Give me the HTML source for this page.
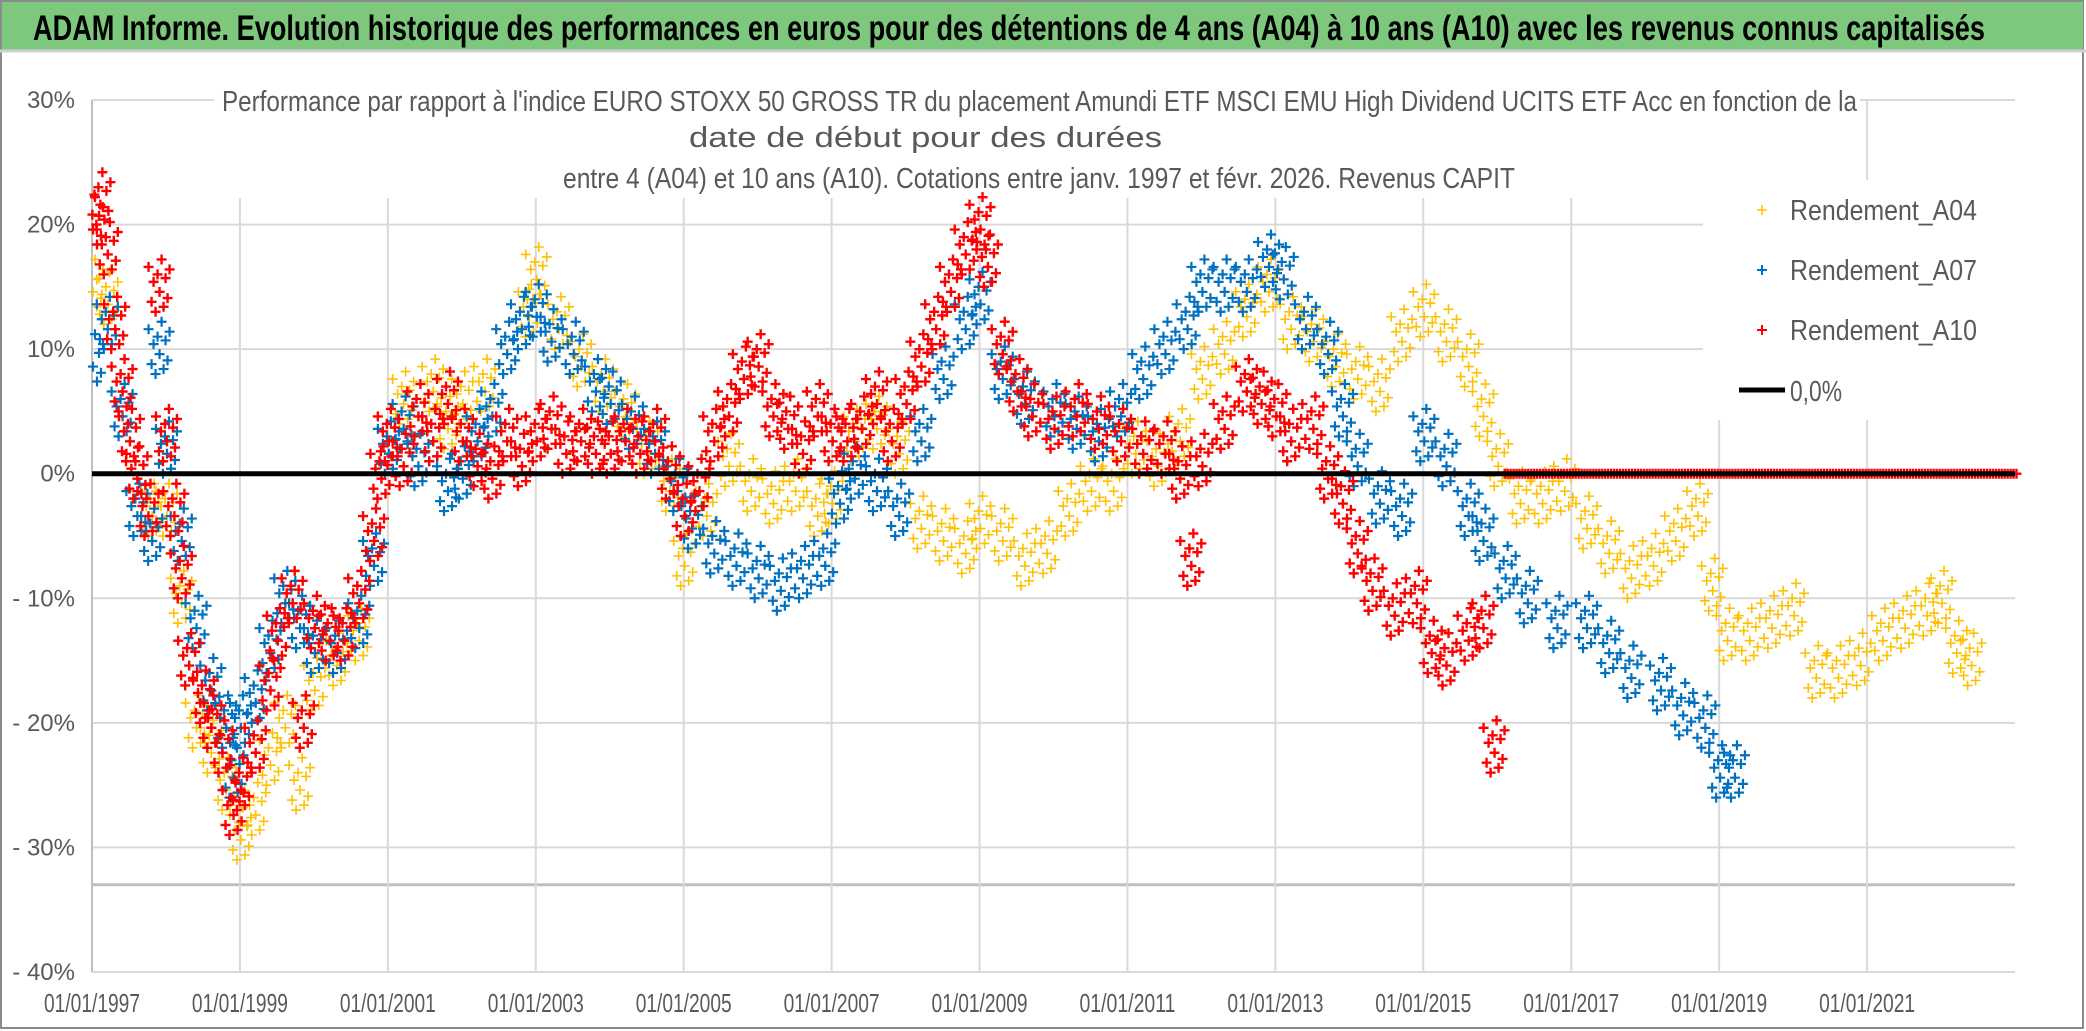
<!DOCTYPE html>
<html><head><meta charset="utf-8"><style>
html,body{margin:0;padding:0;background:#fff;}
svg{display:block;font-family:"Liberation Sans Narrow","Liberation Sans",sans-serif;}
</style></head><body>
<svg id="chart" width="2086" height="1031" viewBox="0 0 2086 1031" xmlns="http://www.w3.org/2000/svg">
<rect x="0" y="0" width="2086" height="1031" fill="#fff"/>
<rect x="1" y="1" width="2082" height="1027" fill="none" stroke="#8a8a8a" stroke-width="2"/>
<rect x="2" y="2" width="2081" height="48" fill="#7dc87d"/>
<line x1="0" y1="51" x2="2086" y2="51" stroke="#d0d0d0" stroke-width="3"/>
<text x="33" y="40" font-size="35" font-weight="bold" fill="#000" textLength="1952" lengthAdjust="spacingAndGlyphs">ADAM Informe. Evolution historique des performances en euros pour des détentions de 4 ans (A04) à 10 ans (A10) avec les revenus connus capitalisés</text>
<g id="grid"></g>
<rect x="214" y="86" width="1646" height="112" fill="#fff"/>
<text x="222" y="111" font-size="29" fill="#595959" textLength="1635" lengthAdjust="spacingAndGlyphs">Performance par rapport à l'indice EURO STOXX 50 GROSS TR  du placement Amundi ETF MSCI EMU High Dividend UCITS ETF Acc en fonction de la</text>
<text x="689" y="147" font-size="29" fill="#595959" textLength="473" lengthAdjust="spacingAndGlyphs">date de début pour des durées</text>
<text x="563" y="188" font-size="29" fill="#595959" textLength="952" lengthAdjust="spacingAndGlyphs">entre 4 (A04) et 10 ans (A10). Cotations entre janv. 1997 et févr. 2026. Revenus CAPIT</text>
<g id="axes"></g>
<g id="marks"></g>
<rect x="1703" y="180" width="312" height="240" fill="#fff"/>
<g font-size="29" fill="#595959">
 <g><path d="M1757 210h10M1762 205v10" stroke="#ffc000" stroke-width="1.5"/><text x="1790" y="220" textLength="187" lengthAdjust="spacingAndGlyphs">Rendement_A04</text></g>
 <g><path d="M1757 270h10M1762 265v10" stroke="#0070c0" stroke-width="2"/><text x="1790" y="280" textLength="187" lengthAdjust="spacingAndGlyphs">Rendement_A07</text></g>
 <g><path d="M1757 330h10M1762 325v10" stroke="#ff0000" stroke-width="2"/><text x="1790" y="340" textLength="187" lengthAdjust="spacingAndGlyphs">Rendement_A10</text></g>
 <g><line x1="1739" y1="390" x2="1785" y2="390" stroke="#000" stroke-width="5"/><text x="1790" y="401" textLength="52" lengthAdjust="spacingAndGlyphs">0,0%</text></g>
</g>
</svg>
<script>
const yTicks=[30,20,10,0,-10,-20,-30,-40];
const yTickLabels=["30%","20%","10%","0%","- 10%","- 20%","- 30%","- 40%"];
const xTicks=[1997,1999,2001,2003,2005,2007,2009,2011,2013,2015,2017,2019,2021];
const xTickLabels=["01/01/1997","01/01/1999","01/01/2001","01/01/2003","01/01/2005","01/01/2007","01/01/2009","01/01/2011","01/01/2013","01/01/2015","01/01/2017","01/01/2019","01/01/2021"];
const a04Dates=[1997.0,1997.2,1997.4,1997.6,1997.8,1998.0,1998.2,1998.4,1998.6,1998.8,1999.0,1999.2,1999.4,1999.6,1999.8,2000.0,2000.3,2000.6,2000.8,2001.0,2001.2,2001.4,2001.6,2001.8,2002.0,2002.3,2002.6,2002.9,2003.0,2003.3,2003.6,2003.9,2004.2,2004.5,2004.8,2005.0,2005.3,2005.6,2005.9,2006.2,2006.5,2006.8,2007.0,2007.3,2007.6,2007.9,2008.2,2008.5,2008.8,2009.0,2009.3,2009.6,2009.9,2010.2,2010.5,2010.8,2011.1,2011.4,2011.7,2012.0,2012.3,2012.6,2012.9,2013.2,2013.5,2013.8,2014.1,2014.4,2014.7,2015.0,2015.3,2015.6,2015.8,2016.0,2016.3,2016.6,2016.9,2017.2,2017.5,2017.8,2018.1,2018.4,2018.7,2018.9,2019.1,2019.4,2019.7,2020.0,2020.3,2020.6,2020.9,2021.2,2021.5,2021.8,2022.0,2022.2,2022.4];
const a04Values=[15,14,7,0,-3,-3,-10,-20,-22,-25,-29,-27,-23,-20,-25,-17,-15,-13,-5,3,6,5,7,4,6,7,10,13,16,12,9,7,5,2,-1,-7,-3,1,-1,-2,-1,-3,-2,3,4,2,-4,-5,-6,-4,-5,-7,-6,-3,-1,-1,2,1,3,8,10,13,15,12,11,9,8,7,11,13,11,9,5,1,-2,-2,-1,-4,-6,-8,-7,-5,-3,-9,-13,-13,-12,-11,-16,-16,-15,-13,-12,-11,-10,-14,-15];
const a07Dates=[1997.0,1997.2,1997.4,1997.6,1997.8,1997.9,1998.0,1998.2,1998.4,1998.6,1998.8,1998.9,1999.0,1999.2,1999.4,1999.6,1999.8,2000.0,2000.3,2000.6,2000.8,2001.0,2001.2,2001.4,2001.6,2001.8,2002.0,2002.2,2002.4,2002.6,2002.8,2003.0,2003.2,2003.5,2003.8,2004.0,2004.3,2004.6,2004.9,2005.1,2005.4,2005.7,2006.0,2006.3,2006.6,2006.9,2007.1,2007.3,2007.6,2007.9,2008.2,2008.5,2008.8,2009.0,2009.3,2009.6,2010.0,2010.3,2010.6,2010.9,2011.2,2011.5,2011.8,2012.0,2012.3,2012.6,2012.9,2013.1,2013.4,2013.7,2013.9,2014.1,2014.4,2014.7,2015.0,2015.3,2015.6,2015.8,2016.1,2016.4,2016.8,2017.2,2017.5,2017.8,2018.2,2018.5,2018.8,2019.0,2019.2];
const a07Values=[9,12,5,-3,-5,10,2,-5,-12,-17,-20,-24,-20,-18,-14,-10,-12,-14,-14,-12,-7,2,4,1,3,-1,0,3,5,10,12,13,11,10,7,6,4,2,-1,-4,-6,-7,-8,-9,-8,-7,-2,0,-1,-3,3,8,12,14,8,6,5,4,3,5,8,10,12,15,15,15,17,16,12,10,5,1,-2,-3,3,1,-3,-5,-8,-10,-12,-12,-14,-16,-17,-19,-20,-24,-24];
const a10Dates=[1997.0,1997.1,1997.2,1997.3,1997.4,1997.5,1997.6,1997.75,1997.9,1998.0,1998.1,1998.2,1998.3,1998.5,1998.6,1998.75,1998.9,1999.0,1999.2,1999.4,1999.5,1999.7,1999.85,2000.0,2000.2,2000.4,2000.6,2000.8,2000.9,2001.0,2001.2,2001.4,2001.6,2001.8,2002.0,2002.2,2002.4,2002.6,2002.8,2003.0,2003.2,2003.4,2003.6,2003.8,2004.0,2004.2,2004.4,2004.6,2004.8,2005.0,2005.2,2005.4,2005.6,2005.8,2006.0,2006.2,2006.4,2006.6,2006.8,2007.0,2007.2,2007.4,2007.6,2007.8,2008.0,2008.2,2008.4,2008.6,2008.8,2009.0,2009.1,2009.3,2009.5,2009.7,2010.0,2010.3,2010.6,2010.9,2011.2,2011.5,2011.7,2011.85,2012.0,2012.3,2012.6,2012.8,2013.0,2013.2,2013.5,2013.7,2013.9,2014.1,2014.3,2014.6,2014.9,2015.1,2015.3,2015.6,2015.8,2015.95];
const a10Values=[20,22,18,12,7,3,0,-3,15,3,-3,-8,-15,-18,-20,-22,-27,-25,-22,-17,-13,-10,-20,-12,-13,-13,-10,-5,0,3,1,5,3,6,3,1,0,3,1,3,4,2,3,2,2,3,2,3,0,-3,-1,3,5,8,9,5,4,2,5,3,3,4,6,3,6,9,12,15,18,20,17,10,7,5,4,5,4,3,2,2,0,-7,1,4,7,6,5,3,4,0,-2,-6,-9,-11,-10,-14,-15,-13,-12,-22];
const a10ZeroStart=2016.1, a10ZeroEnd=2023.05;

const NS="http://www.w3.org/2000/svg";
const X0=92,X1=2015,YR0=1997,YR1=2023;
const Y0=100,Y1=972,V0=30,V1=-40;
function xs(t){return X0+(t-YR0)*(X1-X0)/(YR1-YR0);}
function ys(v){return Y0+(V0-v)*(Y1-Y0)/(V0-V1);}
function mk(tag,attrs,parent){const e=document.createElementNS(NS,tag);for(const k in attrs)e.setAttribute(k,attrs[k]);parent.appendChild(e);return e;}
const grid=document.getElementById('grid'),axes=document.getElementById('axes'),marks=document.getElementById('marks');
yTicks.forEach((v,i)=>{
  const l=mk('line',{x1:X0,x2:X1,y1:ys(v),y2:ys(v),stroke:'#d9d9d9','stroke-width':2},grid);
  
  
  const t=mk('text',{x:75,y:ys(v)+8,'text-anchor':'end','font-size':24,fill:'#595959'},axes);
  t.textContent=yTickLabels[i];
  
  
});
const ref=mk('line',{x1:X0,x2:X1,y1:ys(-33),y2:ys(-33),stroke:'#bfbfbf','stroke-width':3},grid);


xTicks.forEach((t,i)=>{
  if(i>0){const l=mk('line',{x1:xs(t),x2:xs(t),y1:Y0,y2:Y1,stroke:'#d9d9d9','stroke-width':2},grid);
  
  }
  const tx=mk('text',{x:xs(t),y:1012,'text-anchor':'middle','font-size':26,fill:'#595959',textLength:96,lengthAdjust:'spacingAndGlyphs'},axes);
  tx.textContent=xTickLabels[i];
  
  
});
const yax=mk('line',{x1:X0,x2:X0,y1:Y0,y2:Y1,stroke:'#bfbfbf','stroke-width':2},axes);



const cdx=[-10,-7,-5,-3,-1,1,3,5,7,9,11],cdy=[1.6,-1.2,0.4,-2.0,1.0,-0.4,2.2,-1.6,0.7,-0.9,1.4];
function plus(x,y,c,sw,g){mk('path',{d:`M${x-5} ${y}h10M${x} ${y-5}v10`,stroke:c,'stroke-width':sw},g);}
function series(dates,vals,color,sw,name){
  const g=mk('g',{},marks);
  
  
  dates.forEach((d,i)=>{
    const v=vals[i];
    for(let k=0;k<cdx.length;k++){
      const x=xs(d)+cdx[k], y=ys(v+cdy[k]);
      if(x>X0) plus(x,y,color,sw,g);
    }
  });
  return g;
}
series(a04Dates,a04Values,'#ffc000',1.6,'series-a04');
series(a07Dates,a07Values,'#0070c0',2.2,'series-a07');
const g10=series(a10Dates,a10Values,'#ff0000',2.4,'series-a10');
const zl=mk('line',{x1:X0,x2:X1,y1:ys(0),y2:ys(0),stroke:'#000','stroke-width':5},marks);


for(let t=a10ZeroStart;t<=a10ZeroEnd;t+=0.04){plus(xs(t),ys(0),'#ff0000',2.4,g10);}
</script>
</body></html>
